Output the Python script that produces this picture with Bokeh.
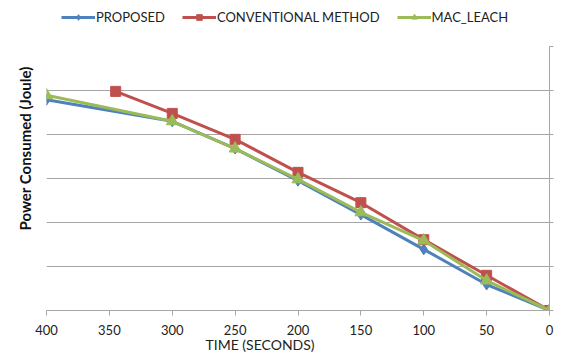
from bokeh.plotting import figure
from bokeh.models import Range1d, Legend, LegendItem, FixedTicker, CustomJSTickFormatter, Title
from bokeh.layouts import column
from bokeh.embed import file_html
from bokeh.resources import INLINE

# Time axis (seconds) and consumed power per method
time_proposed = [400, 300, 250, 200, 150, 100, 50, 0]
power_proposed = [47.9, 43.0, 36.8, 29.5, 21.8, 13.9, 5.9, 0.0]

time_conventional = [345, 300, 250, 200, 150, 100, 50, 0]
power_conventional = [49.8, 44.8, 38.9, 31.4, 24.5, 16.1, 8.0, 0.0]

time_mac_leach = [400, 300, 250, 200, 150, 100, 50, 0]
power_mac_leach = [48.9, 43.0, 36.8, 29.8, 22.3, 15.9, 6.8, 0.0]

series_names = ["PROPOSED", "CONVENTIONAL METHOD", "MAC_LEACH"]
x_ticks = [0, 50, 100, 150, 200, 250, 300, 350, 400]
y_ticks = [0, 10, 20, 30, 40, 50, 60]

FONT = "Lato"
GRID = "#a6a6a6"
TEXT = "#222222"
BLUE = "#4F81BD"
RED = "#C0504D"
GREEN = "#9BBB59"

series = [
    (time_proposed, power_proposed, BLUE, "diamond", 11),
    (time_conventional, power_conventional, RED, "square", 10),
    (time_mac_leach, power_mac_leach, GREEN, "triangle", 12),
]

# ---- main chart -------------------------------------------------------
p = figure(width=563, height=311, output_backend="svg", toolbar_location=None,
           x_range=Range1d(400, 0), y_range=Range1d(0, 60),
           y_axis_location="right",
           min_border_left=44, min_border_right=14, min_border_top=1,
           min_border_bottom=46, outline_line_color=None)

p.xgrid.grid_line_color = None
p.ygrid.ticker = FixedTicker(ticks=y_ticks)
p.ygrid.grid_line_color = GRID

# time axis
p.xaxis.ticker = FixedTicker(ticks=x_ticks)
p.xaxis.axis_line_color = GRID
p.xaxis.major_tick_line_color = GRID
p.xaxis.major_tick_out = 5
p.xaxis.major_tick_in = 0
p.xaxis.minor_tick_line_color = None
p.xaxis.major_label_text_font = FONT
p.xaxis.major_label_text_font_size = "13px"
p.xaxis.major_label_text_color = TEXT
p.xaxis.major_label_standoff = 9

# power axis: line and ticks on the right, no numbers
p.yaxis.ticker = FixedTicker(ticks=y_ticks)
p.yaxis.formatter = CustomJSTickFormatter(code="return ''")
p.yaxis.axis_line_color = GRID
p.yaxis.major_tick_line_color = GRID
p.yaxis.major_tick_out = 4
p.yaxis.major_tick_in = 0
p.yaxis.minor_tick_line_color = None
p.yaxis.major_label_text_font_size = "1px"

# axis titles
p.add_layout(Title(text="TIME (SECONDS)", align="left", offset=159,
                   text_font=FONT, text_font_size="14px",
                   text_font_style="normal", text_color=TEXT, standoff=-8),
             "below")
p.add_layout(Title(text="Power Consumed (Joule)", align="left", offset=80,
                   text_font=FONT, text_font_size="15px",
                   text_font_style="bold", text_color="#111111", standoff=26),
             "left")

for xs, ys, color, marker, size in series:
    p.line(xs, ys, line_color=color, line_width=3)
    p.scatter(xs, ys, marker=marker, size=size, fill_color=color, line_color=color)

# ---- legend strip ----------------------------------------------------
# same series, drawn in a strip whose ranges keep them out of view;
# only their legend swatches show
lg = figure(width=563, height=45, output_backend="svg", toolbar_location=None,
            x_range=Range1d(1000, 1001), y_range=Range1d(1000, 1001),
            x_axis_location=None, y_axis_location=None,
            min_border=0, outline_line_color=None)
lg.grid.visible = False

items = []
for name, (xs, ys, color, marker, size) in zip(series_names, series):
    ln = lg.line(xs, ys, line_color=color, line_width=3)
    mk = lg.scatter(xs, ys, marker=marker, size=size, fill_color=color, line_color=color)
    items.append(LegendItem(label=name, renderers=[ln, mk]))

legend = Legend(items=items, orientation="horizontal", location=(15, 20),
                label_text_font=FONT, label_text_font_size="13px",
                label_text_color=TEXT, border_line_color=None,
                background_fill_alpha=0, glyph_width=34, glyph_height=14,
                label_standoff=1, spacing=17, padding=4, margin=0)
lg.add_layout(legend, "center")

open("out.html", "w").write(file_html(column(lg, p, spacing=0), INLINE))
